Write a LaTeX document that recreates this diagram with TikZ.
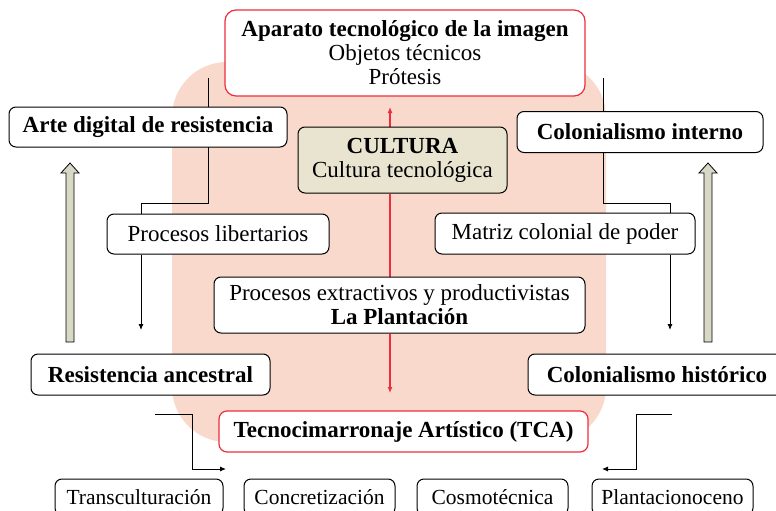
\documentclass[tikz,border=0pt]{standalone}
\usepackage{fontspec}
\setmainfont{Liberation Serif}
\usetikzlibrary{arrows.meta,calc}
\pgfdeclarelayer{back}
\pgfdeclarelayer{mid}
\pgfsetlayers{back,mid,main}
\definecolor{pinkbg}{HTML}{F9D9CB}
\definecolor{beige}{HTML}{E9E4D0}
\definecolor{redl}{HTML}{EE2E3C}
\definecolor{arrowfill}{HTML}{D8D8C6}
\begin{document}
\begin{tikzpicture}[x=1pt,y=-1pt,
  box/.style={draw=black, line width=1pt, rounded corners=7pt, fill=white, inner sep=0pt,
    align=center, font=\fontsize{23}{24}\selectfont},
  redbox/.style={box, draw=redl, line width=1.2pt, rounded corners=11pt},
  smallbox/.style={box, font=\fontsize{21.5}{23}\selectfont},
  conn/.style={draw=black, line width=0.9pt},
  connarrow/.style={conn, -{Latex[length=6pt,width=5pt]}},
  redconn/.style={draw=redl, line width=1.3pt},
  redarrow/.style={redconn, -{Latex[length=6pt,width=5pt]}},
  hollow/.style={fill=arrowfill, draw=black, line width=0.8pt}
]
\useasboundingbox (0,0) rectangle (776,511);

% background
\begin{pgfonlayer}{back}
\fill[pinkbg, rounded corners=55pt] (172,62) rectangle (606,442);
\end{pgfonlayer}

% nodes
\node[redbox, minimum width=360pt, minimum height=86pt] (aparato) at (405,53)
  {\textbf{Aparato tecnológico de la imagen}\\Objetos técnicos\\Prótesis};
\node[box, minimum width=278pt, minimum height=40pt] (arte) at (148,127)
  {\textbf{Arte digital de resistencia}};
\node[box, minimum width=246pt, minimum height=41pt] (colint) at (640,132)
  {\textbf{Colonialismo interno}};
\node[box, fill=beige, minimum width=209pt, minimum height=66pt] (cultura) at (402.5,160)
  {\textbf{CULTURA}\\Cultura tecnológica};
\node[box, minimum width=222pt, minimum height=40pt] (plib) at (218,234)
  {Procesos libertarios};
\node[box, minimum width=260pt, minimum height=41pt] (matriz) at (565,233.5)
  {Matriz colonial de poder};
\node[box, minimum width=371pt, minimum height=56pt] (extr) at (399.5,305)
  {Procesos extractivos y productivistas\\\textbf{La Plantación}};
\node[box, minimum width=239pt, minimum height=41pt] (resanc) at (150.5,374.5)
  {\textbf{Resistencia ancestral}};
\node[box, minimum width=258pt, minimum height=41pt] (colhist) at (657,374.5)
  {\textbf{Colonialismo histórico}};
\node[redbox, rounded corners=8pt, minimum width=369pt, minimum height=41pt] (tca) at (403.5,431.5)
  {\textbf{Tecnocimarronaje Artístico (TCA)}};
\node[smallbox, minimum width=168pt, minimum height=36pt] (trans) at (139,497) {Transculturación};
\node[smallbox, minimum width=151pt, minimum height=36pt] (concr) at (319.5,497) {Concretización};
\node[smallbox, minimum width=151pt, minimum height=36pt] (cosmo) at (492.5,497) {Cosmotécnica};
\node[smallbox, minimum width=161pt, minimum height=36pt] (plant) at (672.5,497) {Plantacionoceno};

% free-end coordinates
\coordinate (l0) at (208,78);
\coordinate (l1) at (208,203);
\coordinate (lb) at (141,203);
\coordinate (la) at (141,330);
\coordinate (r0) at (603,78);
\coordinate (r1) at (603,203);
\coordinate (rb) at (670,203);
\coordinate (ra) at (670,330);
\coordinate (redup) at (390,107);
\coordinate (reddown) at (390,393);
\coordinate (bl0) at (155,414);
\coordinate (bl1) at (192,414);
\coordinate (bl2) at (192,469);
\coordinate (bla) at (226,469);
\coordinate (br0) at (672,414);
\coordinate (br1) at (636,414);
\coordinate (br2) at (636,469);
\coordinate (bra) at (602,469);

\begin{pgfonlayer}{mid}
% left chain
\draw[conn] (l0) -- (l1) -- (lb) -- (lb |- plib.north);
\draw[connarrow] (lb |- plib.south) -- (la);
% right chain
\draw[conn] (r0) -- (r1) -- (rb) -- (rb |- matriz.north);
\draw[connarrow] (rb |- matriz.south) -- (ra);
% red central axis
\draw[redarrow] (redup |- cultura.north) -- (redup);
\draw[redconn] (redup |- cultura.south) -- (redup |- extr.north);
\draw[redarrow] (redup |- extr.south) -- (reddown);
% bottom connectors
\draw[connarrow] (bl0) -- (bl1) -- (bl2) -- (bla);
\draw[connarrow] (br0) -- (br1) -- (br2) -- (bra);
% hollow upward arrows
\filldraw[hollow] (66,342) -- (66,173) -- (61,173) -- (70,163) -- (79,173) -- (74,173) -- (74,342) -- cycle;
\filldraw[hollow] (704,342) -- (704,173) -- (699,173) -- (708,163) -- (717,173) -- (712,173) -- (712,342) -- cycle;
\end{pgfonlayer}
\end{tikzpicture}
\end{document}
